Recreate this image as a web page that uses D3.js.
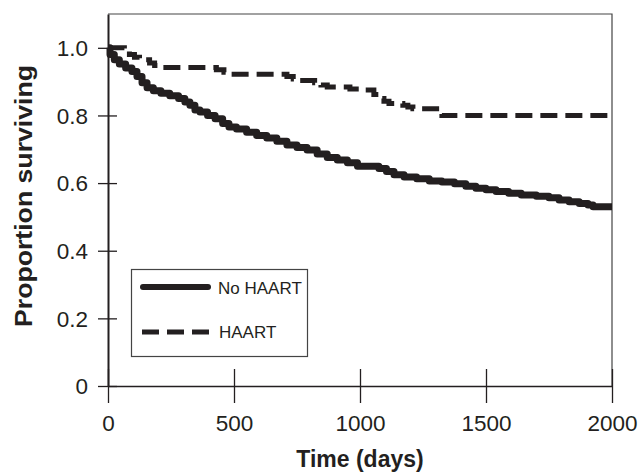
<!DOCTYPE html>
<html>
<head>
<meta charset="utf-8">
<script src="https://cdn.jsdelivr.net/npm/d3@7"></script>
<style>
  body { margin: 0; background: #fff; }
  text { font-family: "Liberation Sans", Arial, Helvetica, sans-serif; fill: #231f20; }
</style>
</head>
<body>
<div id="chart"></div>
<script>
const width = 643;
const height = 472;
const margin = { top: 14, right: 31, bottom: 86, left: 108 };

// Kaplan-Meier curves
const noHaartDays = [0, 8, 25, 45, 70, 95, 115, 135, 155, 180, 210, 245, 280, 305, 325, 345, 365, 395, 425, 455,
  480, 510, 550, 590, 630, 670, 710, 750, 790, 830, 870, 910, 950, 990, 1075, 1105, 1135, 1175, 1225, 1275,
  1325, 1375, 1420, 1460, 1500, 1540, 1590, 1640, 1700, 1750, 1790, 1830, 1870, 1905, 1925, 2000];
const noHaartSurv = [1.0, 0.98, 0.965, 0.952, 0.94, 0.93, 0.915, 0.897, 0.882, 0.873, 0.866, 0.858, 0.85, 0.84, 0.83, 0.816, 0.81, 0.80, 0.79, 0.776,
  0.766, 0.76, 0.75, 0.741, 0.733, 0.724, 0.713, 0.705, 0.698, 0.686, 0.676, 0.668, 0.66, 0.65, 0.643, 0.634, 0.625, 0.618, 0.613, 0.606,
  0.603, 0.598, 0.591, 0.585, 0.58, 0.575, 0.57, 0.565, 0.561, 0.557, 0.55, 0.545, 0.54, 0.535, 0.53, 0.53];

const haartDays = [0, 65, 85, 105, 125, 165, 185, 205, 430, 460, 490, 710, 735, 760, 820, 845, 870, 960, 1000, 1055,
  1075, 1095, 1115, 1170, 1190, 1210, 1325, 1985, 2000];
const haartSurv = [1.0, 0.99, 0.98, 0.972, 0.965, 0.955, 0.948, 0.942, 0.935, 0.928, 0.922, 0.915, 0.908, 0.903, 0.897, 0.89, 0.884, 0.878, 0.875, 0.862,
  0.85, 0.842, 0.835, 0.83, 0.825, 0.82, 0.80, 0.796, 0.796];

const xTicks = [0, 500, 1000, 1500, 2000];
const yTicks = [0, 0.2, 0.4, 0.6, 0.8, 1.0];
const seriesNames = ['No HAART', 'HAART'];

const ink = '#231f20';

const svg = d3.select('#chart')
  .append('svg')
  .attr('width', width)
  .attr('height', height);

const x = d3.scaleLinear()
  .domain([0, 2000])
  .range([margin.left, width - margin.right]);

const y = d3.scaleLinear()
  .domain([0, 1.1])
  .range([height - margin.bottom, margin.top]);

// Frame (top and right)
svg.append('path')
  .attr('d', `M${x(0)},${y(1.1)}H${x(2000)}V${y(0)}`)
  .attr('fill', 'none')
  .attr('stroke', '#444')
  .attr('stroke-width', 1.2);

// Axes
const yAxis = svg.append('g')
  .attr('transform', `translate(${x(0)},0)`)
  .call(d3.axisLeft(y).tickValues(yTicks).tickSize(10).tickSizeOuter(0).tickPadding(10)
    .tickFormat(d => d === 0 ? '0' : d.toFixed(1)));
yAxis.selectAll('.tick line').attr('x1', 9).attr('stroke', ink).attr('stroke-width', 1.3);
yAxis.select('.domain').attr('stroke', ink).attr('stroke-width', 2);
yAxis.selectAll('text').style('font-size', '22.5px').attr('fill', ink).attr('dy', '0.35em');

const xAxis = svg.append('g')
  .attr('transform', `translate(0,${y(0)})`)
  .call(d3.axisBottom(x).tickValues(xTicks).tickSize(17).tickSizeOuter(0).tickPadding(12)
    .tickFormat(d3.format('d')));
xAxis.selectAll('.tick line').attr('y1', -17).attr('stroke', ink).attr('stroke-width', 1.3);
xAxis.select('.domain').attr('stroke', ink).attr('stroke-width', 1.6);
xAxis.selectAll('text').style('font-size', '22.5px').attr('fill', ink);

// Axis titles
svg.append('text')
  .attr('x', (x(0) + x(2000)) / 2)
  .attr('y', 467)
  .attr('text-anchor', 'middle')
  .style('font-size', '23px')
  .style('font-weight', 'bold')
  .text('Time (days)');

svg.append('text')
  .attr('transform', 'translate(32,196) rotate(-90)')
  .attr('text-anchor', 'middle')
  .attr('textLength', 262)
  .attr('lengthAdjust', 'spacingAndGlyphs')
  .style('font-size', '24px')
  .style('font-weight', 'bold')
  .text('Proportion surviving');

// Curves
const line = d3.line()
  .x(d => x(d[0]))
  .y(d => y(d[1]))
  .curve(d3.curveStepAfter);

svg.append('path')
  .datum(d3.zip(noHaartDays, noHaartSurv))
  .attr('d', line)
  .attr('fill', 'none')
  .attr('stroke', ink)
  .attr('stroke-width', 7)
  .attr('stroke-linejoin', 'round');

svg.append('path')
  .datum(d3.zip(haartDays, haartSurv))
  .attr('d', line)
  .attr('fill', 'none')
  .attr('stroke', ink)
  .attr('stroke-width', 5)
  .attr('stroke-dasharray', '17,8');

// Legend
const legend = svg.append('g');
legend.append('rect')
  .attr('x', 131.5).attr('y', 269.5)
  .attr('width', 176).attr('height', 87)
  .attr('fill', '#fff')
  .attr('stroke', '#444')
  .attr('stroke-width', 1.2);

legend.append('line')
  .attr('x1', 143).attr('x2', 208).attr('y1', 287).attr('y2', 287)
  .attr('stroke', ink).attr('stroke-width', 6).attr('stroke-linecap', 'round');
legend.append('line')
  .attr('x1', 142).attr('x2', 209).attr('y1', 332).attr('y2', 332)
  .attr('stroke', ink).attr('stroke-width', 5).attr('stroke-dasharray', '17,8');

legend.selectAll('.ltext')
  .data(seriesNames)
  .enter().append('text')
  .attr('class', 'ltext')
  .attr('x', (d, i) => i === 0 ? 218 : 219)
  .attr('y', (d, i) => i === 0 ? 294 : 338)
  .style('font-size', '17px')
  .text(d => d);
</script>
</body>
</html>
